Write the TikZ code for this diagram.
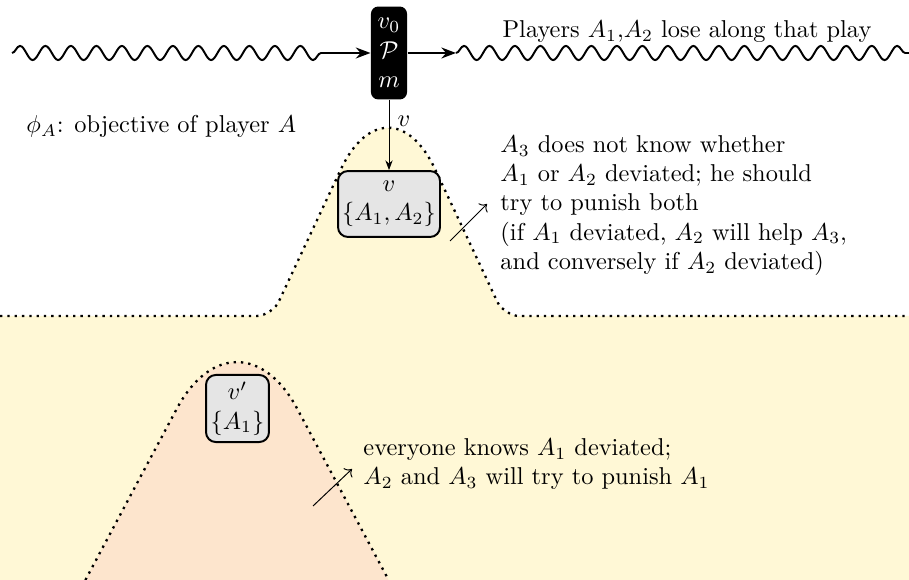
\documentclass[tikz,border=0pt]{standalone}
\usetikzlibrary{decorations.pathmorphing,arrows.meta}
\definecolor{regyellow}{RGB}{255,248,214}
\definecolor{regpeach}{RGB}{253,229,205}
\definecolor{boxgray}{RGB}{229,229,229}
\begin{document}
\begin{tikzpicture}[x=0.41pt,y=-0.41pt,
  bound/.style={line width=0.95pt, dash pattern=on 0.95pt off 2.05pt},
  statebox/.style={draw, thick, fill=boxgray, rounded corners=4pt, align=center, inner sep=1pt},
  playbox/.style={fill=black, text=white, rounded corners=3pt, align=center, inner sep=0pt, minimum width=14.8pt, minimum height=38.1pt},
  wavy/.style={thick, decorate, decoration={snake, amplitude=2.9pt, segment length=10.45pt}},
  note/.style={align=left, inner sep=0pt},
  pointer/.style={->, thin}
]
\path[use as bounding box] (0,0) rectangle (909,580);
% yellow region
\fill[regyellow] (0,316) -- (257,316) .. controls (265,316) and (275.5,308.5) .. (278.4,302.4) -- (341,169) .. controls (367,114) and (409,114) .. (435,169) -- (497.6,302.4) .. controls (500.5,308.5) and (511,316) .. (519,316) -- (909,316) -- (909,580) -- (0,580) -- cycle;
\draw[bound] (0,316) -- (257,316) .. controls (265,316) and (275.5,308.5) .. (278.4,302.4) -- (341,169) .. controls (367,114) and (409,114) .. (435,169) -- (497.6,302.4) .. controls (500.5,308.5) and (511,316) .. (519,316) -- (909,316);
% peach region
\fill[regpeach] (85.4,580) -- (176.7,408.9) .. controls (210,346.5) and (264,346.5) .. (297.3,408.9) -- (388.6,580) -- cycle;
\draw[bound] (85.4,580) -- (176.7,408.9) .. controls (210,346.5) and (264,346.5) .. (297.3,408.9) -- (388.6,580);

% nodes
\node[playbox] (P) at (389,53) {$v_0$\\$\mathcal{P}$\\$m$};
\node[statebox, minimum width=41.8pt, minimum height=27pt] (v) at (389,204) {$v$\\$\{A_1,A_2\}$};
\node[statebox, minimum width=25.8pt, minimum height=27.5pt] (vp) at (237.5,408.5) {$v'$\\$\{A_1\}$};

% play line
\coordinate (wl) at (12,53);
\coordinate (wm) at (456,53);
\coordinate (wr) at (909,53);
\draw[wavy, -{Stealth[length=6pt,width=4.5pt]}, decoration={post length=19pt}] (wl) -- (P);
\draw[thick, -{Stealth[length=6pt,width=4.5pt]}] (P) -- (wm);
\draw[wavy] (wm) -- (wr);
\node[anchor=base] (lose) at (687,38) {Players $A_1$,$A_2$ lose along that play};

\draw[-{Stealth[length=4pt,width=3pt]}] (P) -- node[right, pos=0.3] {$v$} (v);

\node[anchor=base west, inner sep=0pt] (obj) at (26,133) {$\phi_A$: objective of player $A$};

\node[note, anchor=north west] (t1) at (500,135) {$A_3$ does not know whether\\ $A_1$ or $A_2$ deviated; he should\\ try to punish both\\ (if $A_1$ deviated, $A_2$ will help $A_3$,\\ and conversely if $A_2$ deviated)};
\coordinate (a1s) at (450,241);
\coordinate (a1e) at (487,204);
\draw[pointer] (a1s) -- (a1e);

\node[note, anchor=north west] (t2) at (363,438) {everyone knows $A_1$ deviated;\\ $A_2$ and $A_3$ will try to punish $A_1$};
\coordinate (a2s) at (313,506);
\coordinate (a2e) at (352,469);
\draw[pointer] (a2s) -- (a2e);
\end{tikzpicture}
\end{document}
